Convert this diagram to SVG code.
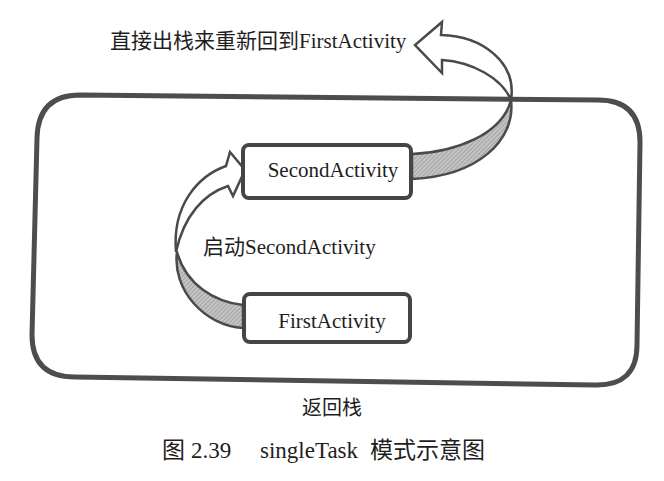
<svg xmlns="http://www.w3.org/2000/svg" width="664" height="481" viewBox="0 0 664 481">
  <defs>
    <pattern id="hatch" width="3" height="3" patternUnits="userSpaceOnUse" patternTransform="rotate(45)">
      <rect width="3" height="3" fill="#c4c4c4"/>
      <line x1="0" y1="0" x2="0" y2="3" stroke="#8e8e8e" stroke-width="1.2"/>
    </pattern>
  </defs>
  <style>
    .frame { fill: none; stroke: #4d4d4d; stroke-width: 5; }
    .box { fill: #ffffff; stroke: #454545; stroke-width: 4; }
    .band { fill: url(#hatch); stroke: #4a4a4a; stroke-width: 2.5; stroke-linejoin: round; }
    .ribbon { fill: #ffffff; stroke: #4a4a4a; stroke-width: 2.5; stroke-linejoin: miter; }
    .label { font-family: "Liberation Serif", "Noto Sans CJK SC", serif; fill: #1e1e1e; }
  </style>
  <rect width="664" height="481" fill="#ffffff"/>

  <!-- back stack container -->
  <g id="back-stack">
    <path class="frame" d="M 80,95 L 598,100 Q 640,100 640,142 L 637,345 Q 637,386 595,385 L 75,377 Q 32,377 32,335 L 37,138 Q 38,95 80,95 Z"/>
    <text class="label" x="302" y="415" font-size="20">返回栈</text>
  </g>

  <!-- curved ribbon arrows -->
  <g id="connectors">
    <!-- start SecondActivity: FirstActivity -> SecondActivity -->
    <g id="arrow-start">
      <path class="band" d="M 243,305 C 215,302 186,285 177,252 C 172,290 205,326 243,328 Z"/>
      <path class="ribbon" d="M 176,252 C 172,205 198,176 226,166 L 230,152 L 245,170 L 233,196 L 228,186 C 204,194 184,215 176,252 Z"/>
    </g>
    <!-- pop back to FirstActivity -->
    <g id="arrow-pop">
      <path class="band" d="M 412,154 C 455,152 502,135 511,100 C 516,140 478,176 412,179 Z"/>
      <path class="ribbon" d="M 511,100 C 517,62 482,36 441,35 L 442,22 L 415,45 L 442,73 L 442,60 C 472,62 502,78 511,100 Z"/>
    </g>
  </g>

  <g id="second-activity">
    <rect class="box" x="243" y="145" width="168" height="53" rx="6"/>
    <text class="label" x="333" y="177" font-size="21" text-anchor="middle">SecondActivity</text>
  </g>

  <g id="first-activity">
    <rect class="box" x="244" y="294" width="166" height="48" rx="6"/>
    <text class="label" x="332" y="328" font-size="21" text-anchor="middle">FirstActivity</text>
  </g>

  <text class="label" x="203" y="254" font-size="21">启动SecondActivity</text>
  <text class="label" x="110" y="48" font-size="21">直接出栈来重新回到FirstActivity</text>

  <text class="label" y="458" font-size="23"><tspan x="162">图</tspan><tspan x="191">2.39</tspan><tspan x="260">singleTask</tspan><tspan x="370">模式示意图</tspan></text>
</svg>
